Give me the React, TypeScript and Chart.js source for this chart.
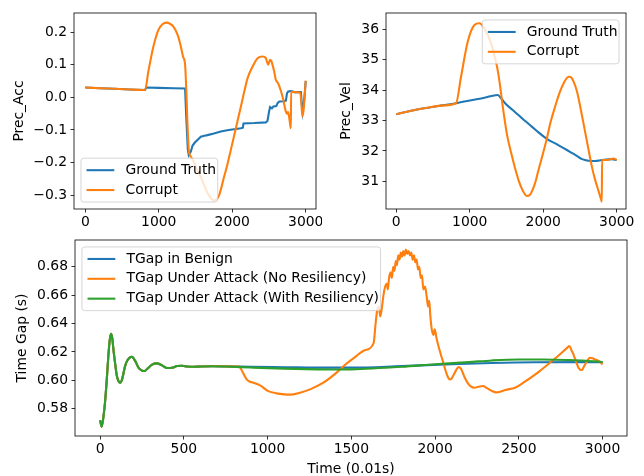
import React, { useEffect, useRef } from 'react';
import { Chart, registerables } from 'chart.js';

Chart.register(...registerables);

const FONT_FAMILY = '"DejaVu Sans", sans-serif';
const FONT_SIZE = 13.9;
const C0 = '#1f77b4';
const C1 = '#ff7f0e';
const C2 = '#2ca02c';

// ---------- Panel 1: Prec_Acc ----------
const accTruthX = [0, 200, 400, 600, 813, 830, 1000, 1200, 1358, 1372, 1395, 1408, 1420, 1435, 1460, 1494, 1530, 1572, 1620, 1662, 1750, 1844, 1950, 2050, 2117, 2145, 2153, 2300, 2457, 2480, 2500, 2515, 2540, 2560, 2600, 2617, 2640, 2700, 2730, 2745, 2762, 2800, 2850, 2934, 2957, 2975, 3000];
const accTruthY = [0.030, 0.028, 0.026, 0.024, 0.0225, 0.030, 0.029, 0.028, 0.027, -0.05, -0.16, -0.177, -0.172, -0.167, -0.148, -0.138, -0.130, -0.121, -0.118, -0.116, -0.111, -0.105, -0.100, -0.097, -0.095, -0.093, -0.080, -0.079, -0.077, -0.072, -0.045, -0.030, -0.034, -0.028, -0.027, -0.018, -0.013, -0.012, -0.010, 0.012, 0.018, 0.019, 0.016, 0.016, -0.045, -0.02, 0.05];
const accCorruptX = [0, 200, 400, 600, 813, 858, 926, 995, 1050, 1108, 1150, 1199, 1250, 1290, 1330, 1358, 1375, 1390, 1408, 1420, 1460, 1503, 1572, 1662, 1710, 1753, 1790, 1822, 1890, 1935, 1980, 2049, 2117, 2163, 2208, 2276, 2345, 2413, 2457, 2489, 2515, 2530, 2571, 2594, 2620, 2639, 2685, 2730, 2745, 2760, 2780, 2798, 2801, 2850, 2925, 2957, 2975, 3000];
const accCorruptY = [0.030, 0.028, 0.026, 0.024, 0.0225, 0.079, 0.155, 0.207, 0.224, 0.229, 0.226, 0.217, 0.195, 0.166, 0.125, 0.100, 0.02, -0.08, -0.162, -0.175, -0.19, -0.213, -0.245, -0.293, -0.31, -0.317, -0.312, -0.300, -0.243, -0.205, -0.162, -0.095, -0.029, 0.017, 0.058, 0.094, 0.120, 0.125, 0.120, 0.100, 0.115, 0.112, 0.079, 0.053, 0.045, 0.035, 0.002, -0.044, -0.05, -0.045, -0.07, -0.095, 0.017, 0.016, 0.015, -0.059, -0.03, 0.051];
const accXTicks = [0, 1000, 2000, 3000];
const accXLabels = ['0', '1000', '2000', '3000'];
const accYTicks = [-0.3, -0.2, -0.1, 0, 0.1, 0.2];
const accYLabels = ['\u22120.3', '\u22120.2', '\u22120.1', '0.0', '0.1', '0.2'];

// ---------- Panel 2: Prec_Vel ----------
const velTruthX = [0, 200, 400, 600, 813, 1000, 1200, 1380, 1420, 1481, 1572, 1662, 1750, 1844, 1935, 2025, 2100, 2162, 2240, 2321, 2400, 2457, 2520, 2571, 2640, 2707, 2798, 2934, 3000];
const velTruthY = [33.21, 33.32, 33.41, 33.49, 33.57, 33.66, 33.75, 33.84, 33.75, 33.57, 33.37, 33.18, 32.99, 32.80, 32.61, 32.44, 32.32, 32.25, 32.14, 32.03, 31.92, 31.84, 31.74, 31.70, 31.67, 31.67, 31.70, 31.73, 31.70];
const velCorruptX = [0, 200, 400, 600, 813, 881, 972, 1063, 1131, 1199, 1290, 1340, 1380, 1415, 1449, 1508, 1572, 1620, 1662, 1720, 1776, 1820, 1844, 1890, 1935, 2000, 2049, 2100, 2162, 2220, 2276, 2345, 2380, 2413, 2460, 2503, 2560, 2617, 2660, 2707, 2750, 2789, 2797, 2800, 2850, 2900, 2957, 3000];
const velCorruptY = [33.21, 33.32, 33.41, 33.49, 33.57, 34.44, 35.59, 36.14, 36.20, 36.03, 35.54, 35.1, 34.66, 34.1, 33.46, 32.52, 31.85, 31.4, 31.05, 30.7, 30.52, 30.56, 30.66, 30.95, 31.37, 31.95, 32.41, 32.95, 33.46, 33.9, 34.22, 34.44, 34.42, 34.28, 33.95, 33.46, 32.75, 32.03, 31.5, 31.04, 30.7, 30.39, 30.33, 31.7, 31.7, 31.72, 31.75, 31.7];
const velXTicks = [0, 1000, 2000, 3000];
const velXLabels = ['0', '1000', '2000', '3000'];
const velYTicks = [31, 32, 33, 34, 35, 36];
const velYLabels = ['31', '32', '33', '34', '35', '36'];

// ---------- Panel 3: Time Gap ----------
const gapStartX = [0, 9, 20, 29, 40, 49, 57, 65, 72, 80, 89, 100, 110, 120, 132, 149, 165, 190, 210, 229, 250, 265, 285, 310, 339, 370, 400, 430, 460, 490, 520, 560, 600, 669];
const gapStartY = [0.5718, 0.5673, 0.5745, 0.5842, 0.601, 0.617, 0.628, 0.6328, 0.630, 0.621, 0.6124, 0.603, 0.5993, 0.5983, 0.601, 0.610, 0.6145, 0.6166, 0.6135, 0.6089, 0.6068, 0.6065, 0.6085, 0.611, 0.6119, 0.6105, 0.6086, 0.6088, 0.6100, 0.6102, 0.6097, 0.6095, 0.6097, 0.6099];
const gapBenignX = [750, 900, 1100, 1300, 1500, 1800, 2100, 2340, 2600, 3000];
const gapBenignY = [0.6098, 0.6095, 0.6092, 0.6089, 0.6089, 0.6100, 0.6113, 0.6122, 0.6127, 0.6128];
const gapAttackX = [750, 830, 850, 875, 895, 915, 955, 1004, 1054, 1100,
  1134, 1193, 1253, 1333, 1412, 1472, 1524, 1580, 1633, 1645,
  1655, 1665, 1672, 1680, 1692, 1702, 1712, 1718, 1725, 1735,
  1742, 1750, 1758, 1765, 1772, 1780, 1788, 1795, 1803, 1810,
  1818, 1826, 1834, 1842, 1850, 1858, 1866, 1874, 1882, 1890,
  1898, 1906, 1914, 1922, 1930, 1940, 1950, 1958, 1965, 1972,
  1980, 1990, 1998, 2008, 2025, 2045, 2065, 2080, 2092, 2105,
  2125, 2140, 2155, 2175, 2195, 2215, 2235, 2260, 2285, 2310,
  2340, 2365, 2390, 2420, 2477, 2527, 2607, 2686, 2746, 2790,
  2802, 2815, 2826, 2845, 2856, 2866, 2876, 2886, 2896, 2910,
  2925, 2940, 2955, 2970, 2985, 3000];
const gapAttackY = [0.6098, 0.6096, 0.606, 0.6007, 0.599, 0.5983, 0.5964, 0.5924, 0.5908, 0.5901,
  0.5899, 0.5913, 0.5936, 0.5983, 0.6054, 0.6118, 0.6165, 0.6212, 0.6262, 0.640,
  0.650, 0.652, 0.645, 0.649, 0.660, 0.666, 0.668, 0.664, 0.672, 0.676,
  0.672, 0.680, 0.677, 0.684, 0.681, 0.688, 0.685, 0.690, 0.687, 0.691,
  0.688, 0.692, 0.689, 0.691, 0.688, 0.690, 0.685, 0.688, 0.683, 0.685,
  0.678, 0.680, 0.672, 0.674, 0.664, 0.666, 0.659, 0.652, 0.656, 0.645,
  0.636, 0.632, 0.636, 0.630, 0.622, 0.614, 0.606, 0.6015, 0.6005, 0.6025,
  0.607, 0.6093, 0.608, 0.6025, 0.598, 0.5955, 0.5948, 0.5955, 0.596, 0.5945,
  0.5925, 0.5915, 0.592, 0.5932, 0.5948, 0.5983, 0.6049, 0.6124, 0.6183, 0.623,
  0.6241, 0.621, 0.6183, 0.612, 0.6089, 0.6075, 0.6072, 0.609, 0.6112, 0.614,
  0.6159, 0.6155, 0.6147, 0.614, 0.6129, 0.6112];
const gapResX = [750, 900, 1100, 1300, 1400, 1500, 1800, 2000, 2200, 2340, 2500, 2650, 2800, 2900, 3000];
const gapResY = [0.6097, 0.6090, 0.6082, 0.6077, 0.6076, 0.6077, 0.6095, 0.6113, 0.6128, 0.6140, 0.6147, 0.6147, 0.6143, 0.6138, 0.6129];
const gapXTicks = [0, 500, 1000, 1500, 2000, 2500, 3000];
const gapXLabels = ['0', '500', '1000', '1500', '2000', '2500', '3000'];
const gapYTicks = [0.58, 0.60, 0.62, 0.64, 0.66, 0.68];
const gapYLabels = ['0.58', '0.60', '0.62', '0.64', '0.66', '0.68'];

// ---------- helpers ----------
function points(xs: number[], ys: number[]) {
  return xs.map((x, i) => ({ x, y: ys[i] }));
}

function series(label: string, color: string, xs: number[], ys: number[], order: number, smooth: boolean) {
  return {
    label,
    data: points(xs, ys),
    borderColor: color,
    backgroundColor: color,
    borderWidth: 2.08,
    pointRadius: 0,
    pointHoverRadius: 0,
    fill: false,
    order,
    tension: 0,
    cubicInterpolationMode: smooth ? 'monotone' : 'default',
  };
}

const mplPlugin = {
  id: 'mplFrame',
  afterDatasetsDraw(chart: any, _args: any, opts: any) {
    const { ctx, chartArea: a } = chart;
    ctx.save();
    ctx.strokeStyle = '#000';
    ctx.lineWidth = 0.8;
    ctx.strokeRect(a.left, a.top, a.right - a.left, a.bottom - a.top);

    const loc: string = (opts && opts.loc) || 'upper right';
    const fs = FONT_SIZE;
    ctx.font = `${fs}px ${FONT_FAMILY}`;
    const items = chart.data.datasets.map((d: any) => ({ label: d.label as string, color: d.borderColor as string }));
    const textW = Math.max(...items.map((it: any) => ctx.measureText(it.label).width)) - 4;
    const pad = 0.4 * fs;
    const hl = 2 * fs;
    const htp = 0.8 * fs;
    const ls = 0.5 * fs;
    const bap = 0.5 * fs;
    const rowH = 12.9;
    const w = 2 * pad + hl + htp + textW;
    const h = 2 * pad + items.length * rowH + (items.length - 1) * ls;
    const x = loc.includes('left') ? a.left + bap : a.right - bap - w;
    const y = loc.includes('upper') ? a.top + bap : a.bottom - bap - h;
    ctx.beginPath();
    if ((ctx as any).roundRect) (ctx as any).roundRect(x, y, w, h, 0.2 * fs);
    else ctx.rect(x, y, w, h);
    ctx.fillStyle = 'rgba(255,255,255,0.8)';
    ctx.fill();
    ctx.strokeStyle = 'rgba(204,204,204,0.8)';
    ctx.lineWidth = 1;
    ctx.stroke();
    items.forEach((it: any, i: number) => {
      const cy = y + pad + rowH / 2 + i * (rowH + ls);
      ctx.beginPath();
      ctx.moveTo(x + pad, cy);
      ctx.lineTo(x + pad + hl, cy);
      ctx.strokeStyle = it.color;
      ctx.lineWidth = 2.08;
      ctx.stroke();
      ctx.fillStyle = '#000';
      ctx.textBaseline = 'middle';
      ctx.textAlign = 'left';
      ctx.fillText(it.label, x + pad + hl + htp, cy);
    });
    ctx.restore();
  },
};

type PanelSpec = {
  key: string;
  left: number; top: number; width: number; height: number;
  padding: { left: number; right: number; top: number; bottom: number };
  yWidth: number; xHeight: number;
  xMin: number; xMax: number; yMin: number; yMax: number;
  xTicks: number[]; xLabels: string[]; yTicks: number[]; yLabels: string[];
  yTitle: string; yTitlePad: number; xTitle?: string;
  legendLoc: string;
  datasets: any[];
};

const tickFont = { family: FONT_FAMILY, size: FONT_SIZE, lineHeight: 1.2 };
const titleFont = { family: FONT_FAMILY, size: FONT_SIZE, lineHeight: 1.0 };

function labelFor(ticks: number[], labels: string[]) {
  return (value: any) => {
    const i = ticks.findIndex((t) => Math.abs(t - Number(value)) < 1e-9);
    return i >= 0 ? labels[i] : '';
  };
}

function buildConfig(p: PanelSpec): any {
  return {
    type: 'line',
    data: { datasets: p.datasets },
    options: {
      responsive: false,
      animation: false,
      devicePixelRatio: 1,
      events: [],
      layout: { padding: p.padding },
      plugins: {
        legend: { display: false },
        tooltip: { enabled: false },
        mplFrame: { loc: p.legendLoc },
      },
      scales: {
        x: {
          type: 'linear',
          position: 'bottom',
          min: p.xMin,
          max: p.xMax,
          afterBuildTicks: (s: any) => { s.ticks = p.xTicks.map((v) => ({ value: v })); },
          afterFit: (s: any) => { s.height = p.xHeight; s.paddingLeft = 0; s.paddingRight = 0; },
          grid: { display: true, drawOnChartArea: false, drawTicks: true, tickLength: 3.5, tickWidth: 0.8, tickColor: '#000' },
          border: { display: false },
          ticks: { autoSkip: false, maxRotation: 0, minRotation: 0, padding: 2, color: '#000', font: tickFont, callback: labelFor(p.xTicks, p.xLabels) },
          title: p.xTitle
            ? { display: true, text: p.xTitle, color: '#000', font: titleFont, padding: { top: 0, bottom: 0 } }
            : { display: false },
        },
        y: {
          type: 'linear',
          position: 'left',
          min: p.yMin,
          max: p.yMax,
          afterBuildTicks: (s: any) => { s.ticks = p.yTicks.map((v) => ({ value: v })); },
          afterFit: (s: any) => { s.width = p.yWidth; s.paddingTop = 0; s.paddingBottom = 0; },
          grid: { display: true, drawOnChartArea: false, drawTicks: true, tickLength: 3.5, tickWidth: 0.8, tickColor: '#000' },
          border: { display: false },
          ticks: { autoSkip: false, padding: 3.5, color: '#000', font: tickFont, callback: labelFor(p.yTicks, p.yLabels) },
          title: { display: true, text: p.yTitle, color: '#000', font: titleFont, padding: { top: p.yTitlePad, bottom: 0 } },
        },
      },
    },
    plugins: [mplPlugin],
  };
}

const PANELS: PanelSpec[] = [
  {
    key: 'acc',
    left: 0, top: 0, width: 322, height: 232,
    padding: { left: 0, right: 6, top: 13, bottom: 0 },
    yWidth: 74, xHeight: 23,
    xMin: -154, xMax: 3140, yMin: -0.3426, yMax: 0.2586,
    xTicks: accXTicks, xLabels: accXLabels, yTicks: accYTicks, yLabels: accYLabels,
    yTitle: 'Prec_Acc', yTitlePad: 12.5,
    legendLoc: 'lower left',
    datasets: [
      series('Ground Truth', C0, accTruthX, accTruthY, 2, false),
      series('Corrupt', C1, accCorruptX, accCorruptY, 1, true),
    ],
  },
  {
    key: 'vel',
    left: 322, top: 0, width: 322, height: 232,
    padding: { left: 0, right: 18, top: 13, bottom: 0 },
    yWidth: 64, xHeight: 23,
    xMin: -140, xMax: 3126, yMin: 30.09, yMax: 36.537,
    xTicks: velXTicks, xLabels: velXLabels, yTicks: velYTicks, yLabels: velYLabels,
    yTitle: 'Prec_Vel', yTitlePad: 17,
    legendLoc: 'upper right',
    datasets: [
      series('Ground Truth', C0, velTruthX, velTruthY, 2, true),
      series('Corrupt', C1, velCorruptX, velCorruptY, 1, true),
    ],
  },
  {
    key: 'gap',
    left: 0, top: 232, width: 644, height: 244,
    padding: { left: 0, right: 17, top: 8, bottom: 0 },
    yWidth: 75, xHeight: 40,
    xMin: -150, xMax: 3146, yMin: 0.56077, yMax: 0.6988,
    xTicks: gapXTicks, xLabels: gapXLabels, yTicks: gapYTicks, yLabels: gapYLabels,
    yTitle: 'Time Gap (s)', yTitlePad: 15.5, xTitle: 'Time (0.01s)',
    legendLoc: 'upper left',
    datasets: [
      series('TGap in Benign', C0, gapStartX.concat(gapBenignX), gapStartY.concat(gapBenignY), 3, true),
      series('TGap Under Attack (No Resiliency)', C1, gapStartX.concat(gapAttackX), gapStartY.concat(gapAttackY), 2, true),
      series('TGap Under Attack (With Resiliency)', C2, gapStartX.concat(gapResX), gapStartY.concat(gapResY), 1, true),
    ],
  },
];

function ChartPanel({ p }: { p: PanelSpec }) {
  const ref = useRef<HTMLCanvasElement>(null);
  useEffect(() => {
    if (!ref.current) return;
    const chart = new Chart(ref.current, buildConfig(p));
    return () => chart.destroy();
  }, [p]);
  return (
    <canvas
      ref={ref}
      width={p.width}
      height={p.height}
      style={{ position: 'absolute', left: p.left, top: p.top, width: p.width, height: p.height }}
    />
  );
}

export default function App() {
  return (
    <div style={{ position: 'absolute', left: 0, top: 0, width: 644, height: 476, background: '#fff', overflow: 'hidden' }}>
      {PANELS.map((p) => (
        <ChartPanel key={p.key} p={p} />
      ))}
    </div>
  );
}
